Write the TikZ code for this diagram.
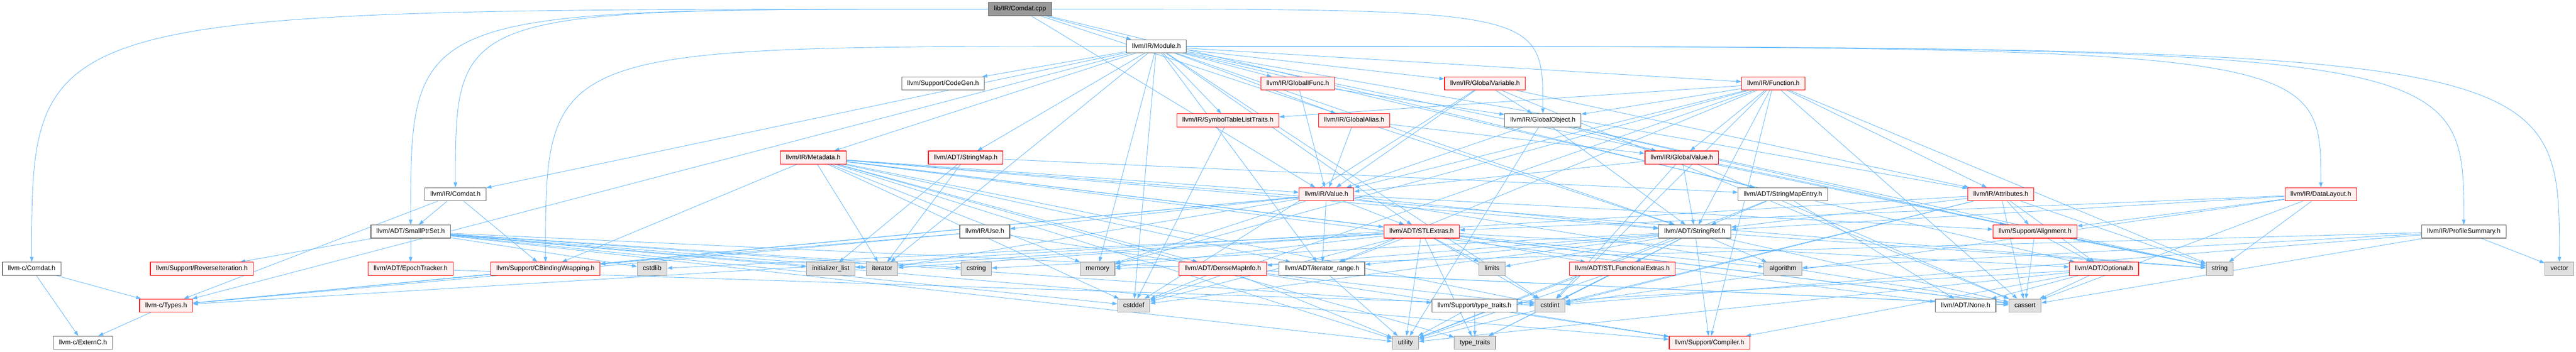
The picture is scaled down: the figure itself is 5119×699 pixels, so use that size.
\documentclass[tikz,border=0pt]{standalone}
\usepackage{fontspec}
\setmainfont{Liberation Sans}
\usetikzlibrary{arrows.meta,backgrounds}

\definecolor{edgeblue}{RGB}{99,184,255}
\definecolor{redfill}{RGB}{255,240,240}
\definecolor{sysfill}{RGB}{224,224,224}
\definecolor{sysline}{RGB}{153,153,153}
\definecolor{nodeline}{RGB}{102,102,102}

\tikzset{
  hdr/.style={draw=nodeline,fill=white,line width=1.2pt,minimum height=26pt,inner xsep=11pt,inner ysep=0pt,
    text height=9.5pt,text depth=2.8pt,font=\fontsize{13}{15}\selectfont},
  trunc/.style={hdr,draw=red,fill=redfill},
  sys/.style={hdr,draw=sysline,fill=sysfill},
  root/.style={hdr,draw=nodeline,fill=sysline},
  edge/.style={draw=edgeblue,line width=0.9pt,-{Triangle[length=10pt,width=7pt]}}
}

\begin{document}
\begin{tikzpicture}[x=1pt,y=1pt,yscale=-1]
\useasboundingbox (0,0) rectangle (5119,699);

% Row 0
\node [root] (cpp) at (2027,18) {lib/IR/Comdat.cpp};
% Row 1
\node [hdr] (module) at (2298,92) {llvm/IR/Module.h};
% Row 2
\node [hdr] (codegen) at (1874,166) {llvm/Support/CodeGen.h};
\node [trunc] (ifunc) at (2579,166) {llvm/IR/GlobalIFunc.h};
\node [trunc] (gvar) at (2951,166) {llvm/IR/GlobalVariable.h};
\node [trunc] (func) at (3524,166) {llvm/IR/Function.h};
% Row 3
\node [trunc] (symtab) at (2440,239) {llvm/IR/SymbolTableListTraits.h};
\node [trunc] (galias) at (2691,239) {llvm/IR/GlobalAlias.h};
\node [hdr] (gobj) at (3066,239) {llvm/IR/GlobalObject.h};
% Row 4
\node [trunc] (meta) at (1616,313) {llvm/IR/Metadata.h};
\node [trunc] (smap) at (1919,313) {llvm/ADT/StringMap.h};
\node [trunc] (gval) at (3342,313) {llvm/IR/GlobalValue.h};
% Row 5
\node [hdr] (irComdat) at (905,386) {llvm/IR/Comdat.h};
\node [trunc] (value) at (2636,386) {llvm/IR/Value.h};
\node [hdr] (smentry) at (3543,386) {llvm/ADT/StringMapEntry.h};
\node [trunc] (attrs) at (3976,386) {llvm/IR/Attributes.h};
\node [trunc] (dlayout) at (4612,386) {llvm/IR/DataLayout.h};
% Row 6
\node [hdr] (sptrset) at (816,460) {llvm/ADT/SmallPtrSet.h};
\node [hdr] (use) at (1957,460) {llvm/IR/Use.h};
\node [trunc] (stlext) at (2825,460) {llvm/ADT/STLExtras.h};
\node [hdr] (sref) at (3368,460) {llvm/ADT/StringRef.h};
\node [trunc] (align) at (4044,460) {llvm/Support/Alignment.h};
\node [hdr] (psum) at (4896,460) {llvm/IR/ProfileSummary.h};
% Row 7
\node [hdr] (cComdat) at (63,534) {llvm-c/Comdat.h};
\node [trunc] (reviter) at (401,534) {llvm/Support/ReverseIteration.h};
\node [trunc] (epoch) at (816,534) {llvm/ADT/EpochTracker.h};
\node [trunc] (cbind) at (1084,534) {llvm/Support/CBindingWrapping.h};
\node [sys] (cstdlib) at (1296,534) {cstdlib};
\node [sys] (initlist) at (1651,534) {initializer\_list};
\node [sys] (iter) at (1753,534) {iterator};
\node [sys] (cstring) at (1940,534) {cstring};
\node [sys] (memory) at (2181,534) {memory};
\node [trunc] (dmi) at (2430,534) {llvm/ADT/DenseMapInfo.h};
\node [hdr] (itrange) at (2627,534) {llvm/ADT/iterator\_range.h};
\node [sys] (limits) at (2965,534) {limits};
\node [trunc] (stlfunc) at (3224,534) {llvm/ADT/STLFunctionalExtras.h};
\node [sys] (algorithm) at (3543,534) {algorithm};
\node [trunc] (optional) at (4181,534) {llvm/ADT/Optional.h};
\node [sys] (string) at (4411,534) {string};
\node [sys] (vector) at (5086,534) {vector};
% Row 8
\node [trunc] (types) at (330,607) {llvm-c/Types.h};
\node [sys] (cstddef) at (2253,607) {cstddef};
\node [hdr] (ttraitsh) at (2930,607) {llvm/Support/type\_traits.h};
\node [sys] (cstdint) at (3080,607) {cstdint};
\node [hdr] (none) at (3906,607) {llvm/ADT/None.h};
\node [sys] (cassert) at (4024,607) {cassert};
% Row 9
\node [hdr] (externc) at (165,681) {llvm-c/ExternC.h};
\node [sys] (utility) at (2793,681) {utility};
\node [sys] (ttraits) at (2931,681) {type\_traits};
\node [trunc] (compiler) at (3397,681) {llvm/Support/Compiler.h};

% Edges
\begin{pgfonlayer}{background}
% long edges: out sideways, drop in from above
\foreach \t in {cComdat,sptrset,irComdat}
  \draw [edge] (cpp.west) .. controls (\t.north |- cpp.west) .. (\t.north);
\draw [edge] (cpp.east) .. controls (gobj.north |- cpp.east) .. (gobj.north);
\draw [edge] (module.west) .. controls (cbind.north |- module.west) .. (cbind.north);
\foreach \t in {dlayout,psum,vector}
  \draw [edge] (module.east) .. controls (\t.north |- module.east) .. (\t.north);
% straight edges
\foreach \t in {smentry,sref,module,value}
  \draw [edge] (cpp) -- (\t);
\foreach \t in {types,optional,stlext,smap,sref,itrange,attrs,irComdat,func,galias,ifunc,gvar,meta,symtab,codegen,cstddef,cstdint,iter,memory,string}
  \draw [edge] (module) -- (\t);
\foreach \t in {types,sptrset,cbind}
  \draw [edge] (irComdat) -- (\t);
\foreach \t in {externc,types}
  \draw [edge] (cComdat) -- (\t);
\draw [edge] (types) -- (externc);
\foreach \t in {epoch,compiler,reviter,ttraitsh,cassert,cstddef,cstdlib,cstring,initlist,iter,utility}
  \draw [edge] (sptrset) -- (\t);
\foreach \t in {gobj,value}
  \draw [edge] (ifunc) -- (\t);
\foreach \t in {attrs,gobj,value,cassert,cstddef}
  \draw [edge] (gvar) -- (\t);
\foreach \t in {sref,itrange,attrs,gobj,gval,symtab,value,compiler,cassert,cstddef,cstdint,memory,string}
  \draw [edge] (func) -- (\t);
\foreach \t in {gval,value}
  \draw [edge] (galias) -- (\t);
\foreach \t in {sref,gval,value,align,string,utility}
  \draw [edge] (gobj) -- (\t);
\foreach \t in {sref,value,cassert,cstdint,string}
  \draw [edge] (gval) -- (\t);
\draw [edge] (symtab) -- (cstddef);
\foreach \t in {smentry,initlist,iter}
  \draw [edge] (smap) -- (\t);
\foreach \t in {dmi,none,stlext,sref,itrange,value,cbind,cassert,cstddef,cstdint,iter,memory,string,ttraits,utility}
  \draw [edge] (meta) -- (\t);
\foreach \t in {types,stlext,sref,itrange,use,align,cbind,cassert,iter,memory}
  \draw [edge] (value) -- (\t);
\foreach \t in {none,sref,utility}
  \draw [edge] (smentry) -- (\t);
\foreach \t in {types,optional,sref,align,cassert,cstdint,string,utility}
  \draw [edge] (attrs) -- (\t);
\foreach \t in {stlext,sref,align,cassert,cstdint,string}
  \draw [edge] (dlayout) -- (\t);
\foreach \t in {algorithm,cassert,cstdint,memory,vector}
  \draw [edge] (psum) -- (\t);
\foreach \t in {types,cbind,compiler}
  \draw [edge] (use) -- (\t);
\foreach \t in {optional,stlfunc,itrange,algorithm,cassert,cstddef,cstdint,cstdlib,initlist,iter,limits,memory,ttraits,utility}
  \draw [edge] (stlext) -- (\t);
\foreach \t in {dmi,stlfunc,itrange,compiler,algorithm,cassert,cstddef,cstring,limits,string,ttraits,utility}
  \draw [edge] (sref) -- (\t);
\foreach \t in {optional,cassert,string}
  \draw [edge] (align) -- (\t);
\foreach \t in {cassert,cstddef,cstdint,utility}
  \draw [edge] (dmi) -- (\t);
\draw [edge] (itrange) -- (utility);
\draw [edge] (epoch) -- (cstdint);
\draw [edge] (cbind) -- (types);
\foreach \t in {cstdint,ttraits,utility}
  \draw [edge] (stlfunc) -- (\t);
\foreach \t in {compiler,ttraits,utility}
  \draw [edge] (ttraitsh) -- (\t);
\foreach \t in {none,compiler,ttraitsh,cassert,utility}
  \draw [edge] (optional) -- (\t);
\end{pgfonlayer}
\end{tikzpicture}
\end{document}
